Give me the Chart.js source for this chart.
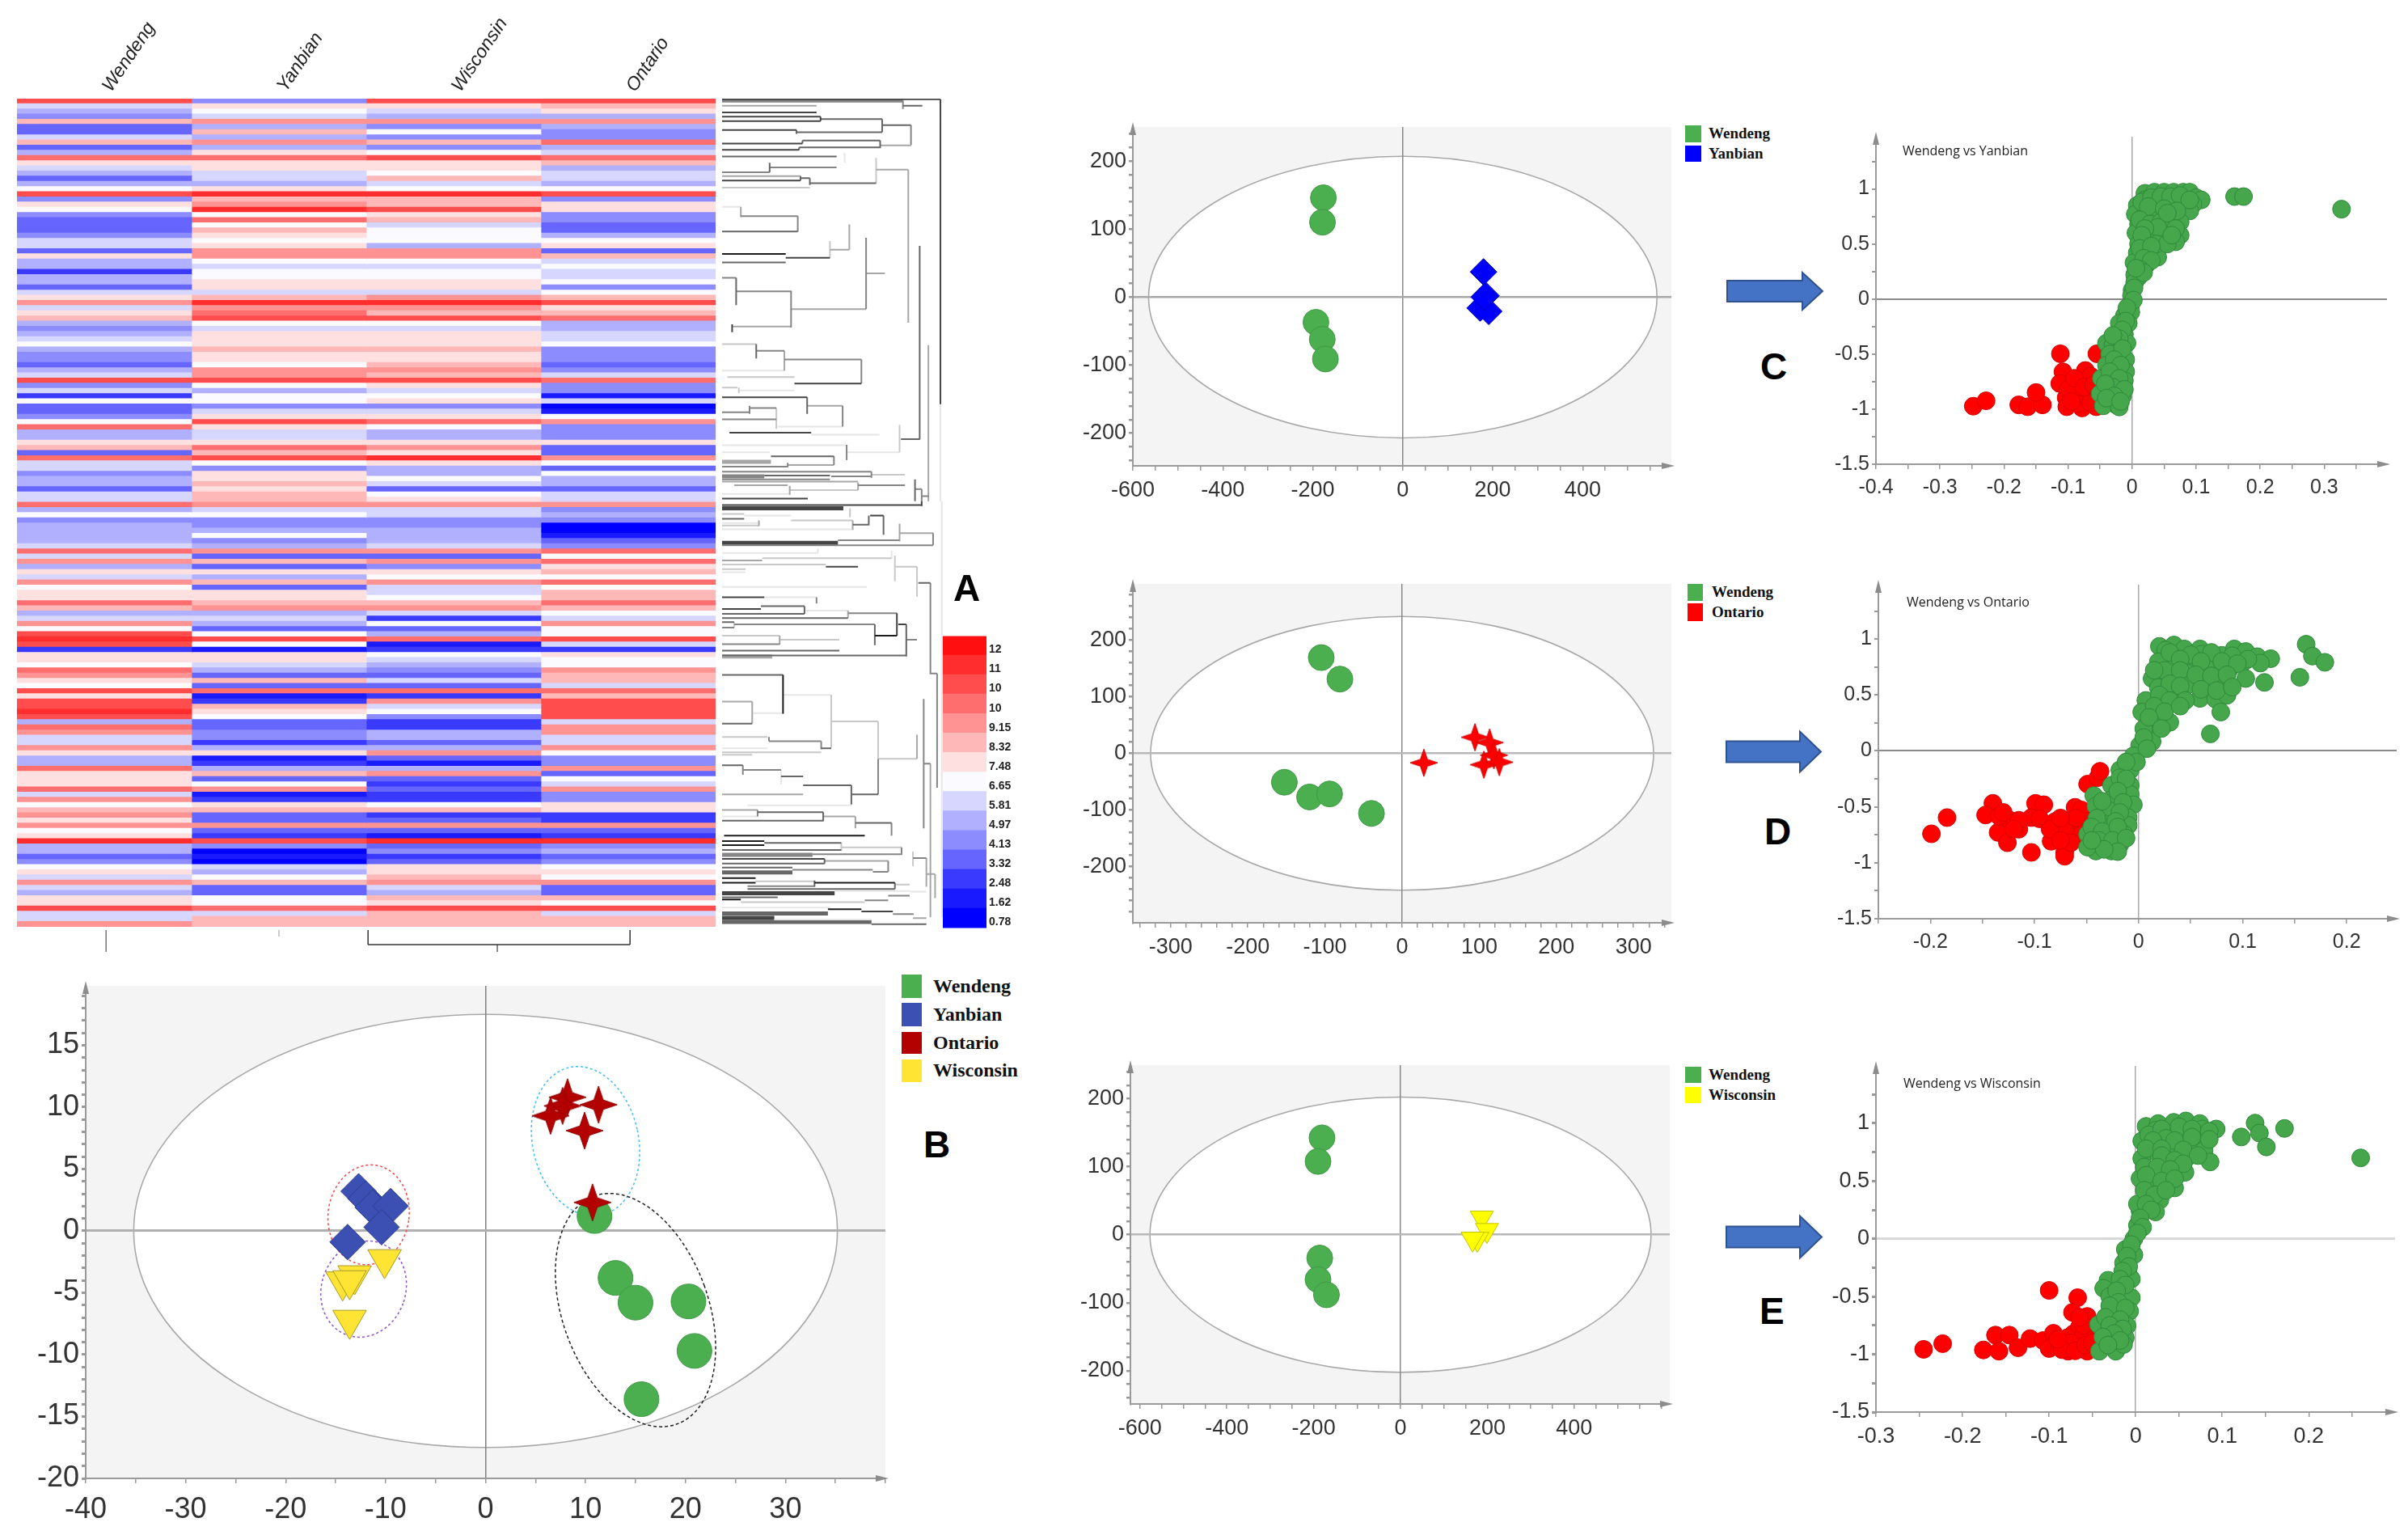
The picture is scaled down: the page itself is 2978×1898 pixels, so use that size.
<!DOCTYPE html>
<html>
<head>
<meta charset="utf-8">
<title>Metabolomics figure</title>
<script src="https://cdn.jsdelivr.net/npm/chart.js@4/dist/chart.umd.js"></script>
<style>
html, body { margin: 0; padding: 0; background: #fff; }
#page { position: relative; width: 2978px; height: 1898px; overflow: hidden; }
#page canvas { position: absolute; }
.txt { position: absolute; white-space: nowrap; line-height: 1; }
.swatch { position: absolute; }
.letter { font-family: "Liberation Sans"; font-weight: bold; font-size: 46px; color: #000; }
.key { font-family: "Liberation Serif"; font-weight: bold; color: #111; }
.sub { font-family: "Open Sans"; font-size: 16px; color: #222; }
svg { position: absolute; left: 0; top: 0; }
</style>
</head>
<body>
<div id="page"></div>
<script>
/* heat map: colour level (0 to 14) of each row, one list per region */
var regions = ["Wendeng", "Yanbian", "Wisconsin", "Ontario"];
var wendeng = [12,6,5,4,9,3,3,6,9,3,
5,11,8,6,5,3,5,7,12,4,
8,7,4,3,3,3,4,6,6,3,
8,5,5,2,5,5,3,6,8,10,
6,8,9,5,4,5,6,7,5,4,
4,3,5,6,12,4,6,2,7,3,
3,4,7,11,5,5,8,9,3,11,
6,6,4,5,5,3,6,6,
11,5,7,4,5,5,5,5,6,11,
6,10,5,8,6,10,7,8,8,11,
9,5,6,10,7,12,13,12,2,8,
8,7,11,10,8,7,12,8,12,12,
13,12,5,11,10,6,6,10,8,5,
5,11,8,8,8,11,6,10,7,9,
10,8,10,7,8,13,5,5,3,4,
7,8,6,10,6,5,8,8,12,6,
6,10];
var yanbian = [4,8,7,6,10,5,9,5,10,5,
8,11,8,8,6,6,5,8,13,9,
10,13,7,11,7,9,8,7,8,10,
10,7,6,7,7,8,8,6,9,13,
10,11,12,7,6,8,8,8,9,8,
8,7,10,10,12,7,5,7,7,4,
6,8,12,8,6,6,8,11,9,12,
7,4,8,8,9,8,9,9,
10,6,7,4,4,5,7,4,5,10,
3,9,3,8,5,9,3,8,8,9,
10,5,6,5,3,7,12,7,1,8,
8,6,5,3,9,3,11,1,2,9,
8,7,3,3,4,4,2,5,8,1,
2,5,9,3,7,10,1,2,8,9,
3,3,10,3,2,12,4,0,1,0,
6,5,7,9,3,3,7,7,11,6,
9,9];
var wisconsin = [12,8,6,5,10,4,7,4,9,4,
7,12,8,8,7,9,6,7,13,9,
9,12,8,9,6,7,7,7,5,10,
10,7,6,7,7,8,8,6,10,13,
10,9,12,7,6,8,8,8,9,8,
8,9,10,9,12,8,6,7,8,4,
6,8,11,7,5,5,8,10,8,13,
8,5,5,7,6,3,7,8,
10,6,6,4,4,5,5,5,6,10,
3,10,4,8,7,10,6,6,7,9,
10,6,2,7,3,5,11,1,2,7,
6,5,4,3,6,3,11,2,10,6,
7,4,2,2,5,5,3,5,10,3,
1,5,10,3,2,3,2,2,7,9,
2,3,10,3,1,13,3,4,2,3,
8,8,9,10,6,5,9,8,12,9,
9,9];
var ontario = [12,9,8,5,10,5,4,4,11,5,
6,11,9,5,6,6,5,7,12,4,
8,8,4,4,3,3,5,7,8,3,
9,6,7,6,6,7,4,7,9,12,
8,9,11,5,5,6,6,7,4,4,
4,3,4,6,11,4,4,1,6,0,
1,7,10,4,4,4,8,3,3,10,
7,3,7,5,5,3,6,6,
10,4,5,4,0,0,1,3,4,11,
7,11,8,9,7,11,7,9,9,11,
9,7,6,10,7,7,12,6,2,8,
7,7,10,9,9,6,11,9,12,12,
12,12,6,10,10,6,6,10,7,4,
4,10,3,7,6,10,4,4,8,8,
2,2,10,3,2,13,4,5,3,4,
7,8,7,10,3,3,9,7,12,6,
9,9];
var heatColors = ["#0000ff","#1a1aff","#3a3aff","#6666ff","#8c8cff","#b0b0ff","#d6d6ff","#fafaff",
                  "#ffe0e0","#ffb8b8","#ff9393","#ff6e6e","#ff4c4c","#ff2d2d","#ff0f0f"];
var scaleLabels = ["12","11","10","10","9.15","8.32","7.48","6.65","5.81","4.97","4.13","3.32","2.48","1.62","0.78"];

/* row dendrogram links: [shade, height1, leaf1, height2, leaf2] */
var treeUpper = [
[1,1077,312,1403,312],[1,1403,312,1403,1265],[2,1347,332,1376,332],[3,1347,316,1347,342],[4,1077,332,1218,332],
[1,1077,353,1218,353],[1,1077,366,1224,366],[1,1077,380,1224,380],[1,1224,366,1224,380],[2,1224,374,1316,374],[2,1316,374,1316,415],
[1,1077,408,1188,408],[2,1188,408,1188,420],[2,1188,415,1316,415],[2,1316,393,1359,393],[3,1359,393,1359,455],[4,1313,456,1359,456],
[2,1313,441,1313,465],[2,1197,441,1313,441],[2,1192,462,1313,462],[2,1197,441,1197,450],[1,1077,450,1197,450],[2,1192,462,1192,470],[1,1077,470,1192,470],
[2,1077,491,1248,491],[6,1260,480,1260,510],[2,1148,510,1148,540],[3,1148,525,1248,525],[3,1077,540,1148,540],[4,1077,552,1194,552],[1,1077,566,1194,566],
[2,1194,552,1194,566],[2,1194,558,1208,558],[2,1208,558,1208,580],[2,1208,574,1307,574],[5,1077,588,1208,588],[5,1307,495,1307,574],[4,1307,532,1355,532],[4,1355,532,1355,1010],
[4,1105,648,1105,680],[6,1077,648,1105,648],[3,1105,677,1190,677],[3,1190,677,1190,725],[2,1077,725,1190,725],
[0,1077,795,1172,795],[2,1077,822,1172,822],[1,1172,807,1238,807],[5,1238,755,1238,807],[4,1238,782,1267,782],[4,1267,703,1267,782],
[3,1292,745,1292,968],[4,1292,856,1320,856],[4,1180,968,1292,968],[3,1180,910,1180,1025],[3,1098,912,1180,912],[2,1098,870,1098,955],[3,1077,870,1098,870],[4,1092,1022,1180,1022],[1,1092,1015,1092,1040],
[2,1372,770,1372,1375],[2,1344,1374,1372,1374],
[5,1077,1077,1128,1077],[2,1128,1077,1128,1122],[3,1128,1098,1170,1098],[4,1170,1098,1170,1160],[3,1170,1125,1285,1125],[3,1285,1125,1285,1200],[1,1185,1200,1285,1200],
[6,1077,1160,1170,1160],[5,1085,1180,1185,1180],[5,1077,1213,1100,1213],[5,1102,1213,1102,1230],[6,1102,1222,1185,1222],
[1,1077,1243,1204,1243],[2,1204,1243,1204,1295],[4,1204,1270,1257,1270],[3,1257,1270,1257,1335],[6,1160,1335,1257,1335],[5,1158,1277,1158,1342],[3,1118,1277,1158,1277],[3,1077,1290,1118,1290],[3,1118,1270,1118,1295],[3,1077,1312,1158,1312],
[1,1088,1354,1210,1354],[6,1210,1360,1312,1360],[5,1342,1330,1342,1415],[6,1262,1415,1342,1415],[3,1263,1392,1263,1440],[6,1077,1393,1262,1393],[6,1077,1415,1148,1415],[2,1150,1428,1244,1428],[3,1244,1428,1244,1455],
[3,1077,1460,1175,1460],[3,1175,1448,1175,1462],[4,1175,1455,1244,1455],[3,1077,1476,1300,1476],[2,1140,1488,1238,1488],[3,1077,1500,1238,1500],[3,1240,1490,1300,1490],[3,1300,1476,1300,1495],[5,1300,1485,1350,1485],
[4,1077,1507,1280,1507],[4,1095,1518,1175,1518],[4,1178,1520,1178,1548],[6,1077,1545,1178,1545],[5,1178,1533,1280,1533],[4,1280,1510,1280,1533],[3,1280,1518,1350,1518],
[2,1365,1500,1365,1568],[3,1365,1530,1375,1530],[3,1375,1530,1375,1568],[3,1375,1552,1386,1552],[1,1077,1560,1205,1560],[4,1385,1080,1385,1568],[6,1403,1265,1403,1568]
];
var treeLower = [
[1,1077,12,1375,12],[1,1375,0,1375,15],[5,1268,22,1268,50],[1,1298,45,1318,45],[2,1318,45,1318,105],[2,1296,45,1296,75],[2,1272,73,1296,73],[4,1272,60,1272,90],[5,1180,60,1272,60],[6,1077,88,1272,88],
[5,1077,40,1110,40],[6,1110,45,1180,45],[2,1077,55,1110,55],[6,1077,68,1132,68],[4,1132,60,1132,78],[5,1077,76,1132,76],[4,1342,70,1342,125],[4,1342,100,1392,100],[3,1392,100,1392,137],[3,1250,122,1342,122],[3,1077,138,1392,138],
[6,1405,0,1405,1300],[6,1077,162,1220,162],[6,1220,148,1220,162],[6,1330,155,1330,180],[5,1137,178,1330,178],[4,1077,185,1137,185],[5,1077,198,1232,198],[1,1232,205,1280,205],[5,1077,212,1112,212],[6,1077,222,1112,222],
[5,1335,170,1335,250],[5,1335,205,1368,205],[5,1368,205,1368,298],[2,1370,255,1388,255],[3,1388,255,1388,540],[6,1077,268,1293,268],
[1,1077,300,1140,300],[6,1140,300,1218,300],[3,1218,300,1218,320],[1,1077,337,1135,337],[2,1135,328,1200,328],[2,1200,328,1200,352],[2,1077,352,1200,352],[6,1200,342,1265,342],[4,1265,342,1265,365],[3,1265,350,1338,350],[2,1077,365,1265,365],
[1,1338,350,1338,420],[0,1305,420,1338,420],[2,1305,385,1305,450],[3,1095,385,1305,385],[2,1077,378,1095,378],[5,1095,378,1095,395],[3,1077,395,1095,395],[1,1340,385,1352,385],[2,1352,385,1352,485],[3,1352,433,1368,433],[2,1077,482,1352,482],
[5,1077,420,1163,420],[4,1163,420,1163,448],[5,1163,433,1252,433],[3,1077,447,1163,447],[2,1077,467,1252,467],
[3,1388,538,1398,538],[3,1398,538,1398,895],[3,1378,820,1388,820],[3,1378,618,1378,1022],[4,1388,820,1388,1300],
[2,1077,543,1168,543],[0,1168,543,1168,664],[6,1122,662,1168,662],[6,1168,605,1240,605],[5,1240,605,1240,770],[5,1240,688,1310,688],[5,1310,688,1310,805],[5,1310,805,1368,805],[4,1368,730,1368,805],
[4,1077,626,1122,626],[4,1122,626,1122,695],[2,1077,695,1122,695],[2,1225,772,1240,772],[5,1077,737,1145,737],[3,1147,737,1147,750],[3,1147,750,1225,750],[3,1225,750,1225,775],[6,1077,772,1145,772],[5,1077,785,1225,785],[5,1077,792,1122,792],
[2,1077,825,1108,825],[3,1108,825,1108,855],[3,1108,840,1165,840],[6,1165,840,1165,885],[2,1165,860,1198,860],[2,1198,888,1270,888],[2,1270,888,1270,948],[2,1270,916,1310,916],[4,1077,916,1198,916],[6,1115,950,1270,950],[3,1310,805,1310,916],
[4,1077,965,1130,965],[3,1130,965,1130,985],[2,1130,972,1228,972],[2,1228,972,1228,1000],[6,1077,985,1130,985],[2,1077,998,1228,998],[4,1228,985,1276,985],[4,1276,985,1276,1022],[2,1276,1005,1330,1005],[3,1330,1005,1330,1045],[0,1080,1045,1290,1045],
[0,1077,1062,1140,1062],[0,1077,1075,1140,1075],[2,1140,1068,1255,1068],[5,1255,1068,1255,1092],[5,1255,1082,1345,1082],[3,1345,1082,1345,1105],[2,1077,1090,1255,1090],[3,1212,1103,1345,1103],[1,1077,1118,1230,1118],[2,1230,1118,1230,1132],[2,1077,1132,1230,1132],
[4,1230,1124,1325,1124],[3,1325,1124,1325,1158],[2,1077,1145,1182,1145],[3,1182,1152,1302,1152],[3,1302,1158,1325,1158],[3,1362,1115,1382,1115],[5,1362,1095,1362,1140],[4,1382,1115,1382,1205],[4,1382,1165,1395,1165],[4,1395,1165,1395,1240],
[0,1077,1178,1127,1178],[0,1077,1192,1127,1192],[5,1127,1188,1215,1188],[2,1215,1185,1215,1205],[3,1115,1203,1215,1203],[0,1215,1192,1335,1192],[2,1335,1192,1335,1212],[2,1115,1212,1335,1212],[5,1335,1198,1357,1198],
[6,1245,1218,1358,1218],[6,1358,1220,1382,1220],[2,1077,1238,1160,1238],[0,1077,1245,1105,1245],[5,1105,1253,1290,1253],[3,1290,1247,1325,1247],[3,1325,1233,1357,1233],[6,1077,1270,1238,1270],[0,1235,1275,1285,1275],[1,1285,1282,1332,1282],[3,1332,1290,1363,1290],[4,1362,1303,1382,1303],[6,1155,1307,1300,1307],[2,1300,1322,1382,1322]
];
/* heavier links, leaf positions counted on the same running scale as treeUpper */
var treeHeavy = [
[3,1077,316,1347,316],[4,1077,1445,1150,1445],[3,1077,1490,1140,1490],[1,1077,1590,1258,1590],[1,1077,1698,1250,1698],[4,1077,2053,1152,2053],
[3,1077,2673,1212,2673],[2,1077,2728,1182,2728],[1,1077,2793,1245,2793],[2,1077,2856,1235,2856],[1,1077,2870,1155,2870],[2,1077,2883,1300,2883]
];
var columnTree = [[0,0.51,0,0.51,1],[4,1.5,0,1.5,0.3],[1,2.01,0,2.01,0.67],[1,3.51,0,3.51,0.67],[1,2.01,0.67,3.51,0.67],[2,2.75,0.67,2.75,1]];

/* panel B scores */
var bWendeng = [[10.9,1.2],[13,-3.8],[15,-5.8],[20.3,-5.7],[20.9,-9.7],[15.6,-13.6]];
var bYanbian = [[-12.7,3.2],[-12,2.6],[-11.3,1.9],[-9.5,2],[-10.4,0.3],[-13.8,-0.9]];
var bOntario = [[8.2,10.8],[11.3,10.2],[7.7,10.1],[6.5,9.3],[9.9,8.1],[10.7,2.3]];
var bWisconsin = [[-10.1,-2.3],[-13.1,-3.6],[-14.3,-4.1],[-13.6,-4],[-13.6,-7.2]];
/* panel B cluster outlines: centre x, centre y, half width, half height, tilt in degrees */
var bClusterOntario = [10,7.25,5.3,6.1,-12];
var bClusterYanbian = [-11.7,1.3,4.05,4.05,8];
var bClusterWisconsin = [-12.2,-4.7,4.2,3.95,20];
var bClusterWendeng = [15,-6.4,7.3,9.8,-20];

/* panels C, D, E scores */
var cWendeng = [[-176.5,146],[-178.5,110],[-193,-37],[-179,-62],[-172,-91]];
var cYanbian = [[179.5,37],[185,2],[172,-16],[191,-21],[181,0]];
var dWendeng = [[-104.8,169],[-80.6,131],[-152.6,-51],[-120,-77],[-94,-71.6],[-39.7,-106]];
var dOntario = [[94.4,28.4],[113.4,19],[119,-3.3],[106,-20],[126,-15.6],[28.2,-16.6]];
var eWendeng = [[-180.8,142.5],[-190,107.8],[-186,-34.3],[-190,-66],[-170.6,-88.4]];
var eWisconsin = [[187,25],[199,6.7],[177,-6.3],[166,-6]];

/* S-plots */
var sCGreen = [[.02,.96],[.035,.97],[.05,.97],[.065,.97],[.08,.97],[.09,.97],[.1,.92],[.108,.9],[.095,.86],[.075,.9],[.045,.89],[.02,.9],[.008,.85],[.018,.8],[.035,.85],[.06,.88],[.08,.82],[.09,.8],[.005,.77],[.02,.76],[.035,.72],[.06,.74],[.075,.7],[.01,.68],[.03,.62],[.06,.65],[.075,.58],[.068,.52],[.05,.55],[.006,.6],[.025,.55],[.05,.6],[.01,.5],[.025,.42],[.04,.38],[.008,.42],[.022,.31],[.003,.33],[.004,.22],[.01,.2],[.004,.15],[0,.08],[-.001,.03],[-.002,-.05],[-.002,-.12],[-.012,-.15],[-.02,-.22],[-.006,-.22],[-.012,-.32],[-.008,-.4],[-.04,-.4],[-.03,-.42],[-.02,-.5],[-.035,-.5],[-.01,-.55],[-.04,-.6],[-.025,-.62],[-.01,-.66],[-.048,-.72],[-.03,-.72],[-.012,-.74],[-.04,-.82],[-.02,-.84],[-.015,-.88],[-.05,-.86],[-.035,-.92],[-.025,-.96],[-.045,-.97],[-.02,-.98],[.16,.93],[.174,.93],[.327,.816],
[.015,.88],[.03,.92],[.045,.93],[.06,.93],[.075,.94],[.09,.9],[.025,.84],[.05,.82],[.07,.8],[.012,.72],[.028,.68],[.045,.7],[.055,.78],[.068,.64],[.04,.65],[.02,.64],[.015,.58],[.038,.5],[.055,.5],[.062,.58],[.012,.46],[.03,.48],[.018,.37],[.03,.35],[.012,.27],[.018,.24],[.006,.28],[.003,.1],[.002,-.01],[-.008,-.08],[-.01,-.2],[-.015,-.28],[-.02,-.36],[-.03,-.33],[-.015,-.45],[-.028,-.55],[-.018,-.6],[-.035,-.66],[-.02,-.72],[-.03,-.8],[-.012,-.82],[-.042,-.77],[-.028,-.88],[-.04,-.9],[-.018,-.93]];
var sCRed = [[-.248,-.973],[-.228,-.924],[-.177,-.961],[-.163,-.978],[-.14,-.961],[-.15,-.849],[-.112,-.497],[-.055,-.497],[-.108,-.661],[-.073,-.649],[-.113,-.767],[-.088,-.802],[-.103,-.896],[-.075,-.896],[-.06,-.872],[-.102,-.978],[-.078,-.989],[-.056,-.978],[-.069,-.778],[-.09,-.88],[-.065,-.7],
[-.1,-.82],[-.085,-.95],[-.065,-.94],[-.09,-.72],[-.075,-.8],[-.06,-.78],[-.095,-.93]];
var sDGreen = [[.02,.934],[.034,.946],[.044,.911],[.059,.911],[.026,.9],[.061,.865],[.08,.854],[.092,.911],[.103,.888],[.114,.842],[.127,.824],[.117,.785],[.101,.796],[.088,.739],[.076,.739],[.065,.739],[.047,.773],[.03,.773],[.019,.796],[.013,.647],[.03,.647],[.047,.693],[.061,.624],[.076,.612],[.047,.589],[.019,.566],[.04,.497],[.059,.469],[.074,.462],[.085,.497],[.079,.347],[.026,.428],[.007,.451],[.003,.347],[.017,.29],[.03,.255],[.013,.175],[.005,.198],[.001,.048],[.013,.083],[-.005,-.044],[-.008,-.17],[-.018,-.17],[-.008,-.308],[-.026,-.308],[-.043,-.4],[-.026,-.435],[-.008,-.389],[-.005,-.481],[-.041,-.492],[-.026,-.538],[-.01,-.596],[-.032,-.653],[-.01,-.665],[-.049,-.745],[-.026,-.722],[-.014,-.745],[-.041,-.895],[-.026,-.895],[-.049,-.86],[-.018,-.838],[.069,.152],[.155,.658],[.161,.953],[.167,.847],[.179,.792],[.103,.647],[.121,.612],
[.03,.88],[.05,.86],[.07,.88],[.09,.85],[.105,.82],[.04,.82],[.06,.8],[.08,.8],[.095,.78],[.025,.72],[.04,.72],[.055,.68],[.07,.67],[.085,.68],[.015,.72],[.03,.6],[.04,.58],[.06,.55],[.075,.54],[.09,.57],[.02,.5],[.03,.45],[.045,.45],[.015,.4],[.025,.35],[.04,.4],[.01,.3],[.022,.2],[.005,.12],[.008,.02],[-.002,-.1],[-.012,-.1],[-.018,-.24],[-.012,-.25],[-.02,-.36],[-.015,-.46],[-.035,-.45],[-.018,-.55],[-.04,-.6],[-.022,-.63],[-.045,-.68],[-.035,-.72],[-.02,-.68],[-.038,-.8],[-.025,-.8],[-.012,-.78],[-.02,-.9],[-.033,-.88],[-.045,-.8]];
var sDRed = [[-.199,-.741],[-.184,-.596],[-.14,-.469],[-.147,-.573],[-.124,-.619],[-.135,-.729],[-.126,-.821],[-.115,-.7],[-.103,-.907],[-.099,-.469],[-.091,-.481],[-.103,-.596],[-.095,-.607],[-.08,-.63],[-.076,-.688],[-.084,-.808],[-.062,-.792],[-.071,-.907],[-.071,-.941],[-.061,-.504],[-.055,-.527],[-.049,-.63],[-.059,-.7],[-.049,-.297],[-.039,-.239],[-.037,-.182],[-.068,-.63],[-.134,-.584],
[-.07,-.72],[-.085,-.7],[-.06,-.6],[-.075,-.6],[-.115,-.62],[-.13,-.55],[-.055,-.75],[-.065,-.82],[-.075,-.8],[-.12,-.7]];
var sEGreen = [[.012,.973],[.026,.997],[.044,1.008],[.058,1.02],[.074,.997],[.093,.95],[.023,.939],[.056,.915],[.077,.95],[.007,.846],[.019,.765],[.044,.776],[.07,.8],[.079,.765],[.06,.707],[.032,.672],[.086,.665],[.007,.695],[.019,.568],[.035,.533],[.057,.575],[.045,.44],[.005,.521],[.016,.475],[.028,.336],[.005,.243],[.023,.232],[.002,.301],[.002,.116],[-.002,0],[-.012,-.093],[-.002,-.139],[-.014,-.209],[-.009,-.29],[-.005,-.348],[-.032,-.359],[-.037,-.429],[-.03,-.498],[-.013,-.475],[-.005,-.51],[-.023,-.637],[-.007,-.626],[-.043,-.742],[-.01,-.753],[-.028,-.846],[-.012,-.857],[-.042,-.973],[-.023,-.973],[-.014,-.915],[.122,.881],[.138,1.001],[.143,.915],[.151,.795],[.172,.955],[.26,.7],
[.015,.9],[.03,.95],[.05,.97],[.065,.95],[.085,.93],[.035,.87],[.065,.88],[.085,.86],[.02,.85],[.045,.85],[.012,.78],[.03,.78],[.055,.77],[.072,.72],[.01,.62],[.03,.72],[.045,.68],[.055,.65],[.025,.62],[.04,.6],[.012,.55],[.03,.5],[.045,.52],[.01,.42],[.022,.38],[.035,.42],[.012,.3],[.018,.25],[.005,.18],[.008,.1],[.002,.05],[-.005,-.05],[-.01,-.15],[-.008,-.24],[-.015,-.28],[-.018,-.35],[-.012,-.4],[-.022,-.45],[-.02,-.55],[-.03,-.58],[-.012,-.6],[-.035,-.68],[-.018,-.7],[-.03,-.75],[-.015,-.78],[-.025,-.82],[-.038,-.85],[-.018,-.88],[-.032,-.92]];
var sERed = [[-.245,-.957],[-.223,-.908],[-.176,-.962],[-.162,-.834],[-.158,-.973],[-.146,-.834],[-.136,-.943],[-.122,-.864],[-.107,-.881],[-.1,-.447],[-.095,-.818],[-.1,-.95],[-.078,-.973],[-.067,-.51],[-.073,-.637],[-.072,-.823],[-.056,-.973],[-.056,-.881],[-.065,-.765],[-.079,-.857],[-.056,-.672],[-.053,-.8],[-.088,-.915],
[-.065,-.9],[-.06,-.83],[-.075,-.9],[-.085,-.96],[-.07,-.97],[-.06,-.75],[-.065,-.68],[-.058,-.92],[-.05,-.9],[-.09,-.87]];

Chart.defaults.animation = false;
Chart.defaults.responsive = false;
Chart.defaults.plugins.legend.display = false;
Chart.defaults.plugins.tooltip.enabled = false;

var page = document.getElementById("page");

function addCanvas(x, y, w, h) {
    var c = document.createElement("canvas");
    c.width = w;
    c.height = h;
    c.style.left = x + "px";
    c.style.top = y + "px";
    page.appendChild(c);
    return c;
}

function addText(text, x, y, cls, size) {
    var d = document.createElement("div");
    d.className = "txt " + cls;
    d.textContent = text;
    d.style.left = x + "px";
    d.style.top = y + "px";
    if (size) { d.style.fontSize = size + "px"; }
    page.appendChild(d);
}

function addKey(items, x, textX, size) {
    /* items: name, colour, top, bottom */
    for (var i = 0; i < items.length; i++) {
        var s = document.createElement("div");
        s.className = "swatch";
        s.style.left = x[0] + "px";
        s.style.width = (x[1] - x[0]) + "px";
        s.style.top = items[i][2] + "px";
        s.style.height = (items[i][3] - items[i][2]) + "px";
        s.style.background = items[i][1];
        page.appendChild(s);
        addText(items[i][0], textX, (items[i][2] + items[i][3]) / 2 - size / 2 - 1, "key", size);
    }
}

/* four pointed star marker */
function starMarker(radius, fill, edge) {
    var c = document.createElement("canvas");
    var m = radius + 2;
    c.width = m * 2;
    c.height = m * 2;
    var g = c.getContext("2d");
    var inner = radius * 0.36;
    g.beginPath();
    for (var i = 0; i < 8; i++) {
        var r = i % 2 === 0 ? radius : inner;
        var a = i * Math.PI / 4 - Math.PI / 2;
        g.lineTo(m + r * Math.cos(a), m + r * Math.sin(a));
    }
    g.closePath();
    g.fillStyle = fill;
    g.fill();
    g.strokeStyle = edge;
    g.stroke();
    return c;
}

function toPoints(pairs) {
    return pairs.map(function (p) { return { x: p[0], y: p[1] }; });
}

function scatterSet(pairs, style, radius, fill, edge, rotation) {
    return {
        data: toPoints(pairs),
        pointStyle: style,
        pointRadius: radius,
        pointRotation: rotation || 0,
        backgroundColor: fill,
        borderColor: edge,
        borderWidth: 1,
        showLine: false,
        clip: false
    };
}

/* plugin for the grey box, Hotelling ellipse, cluster outlines and axis arrow heads */
function framePlugin(cfg) {
    function ellipsePath(chart, e) {
        var xs = chart.scales.x, ys = chart.scales.y;
        var rx = Math.abs(xs.getPixelForValue(e[2]) - xs.getPixelForValue(0));
        var ry = Math.abs(ys.getPixelForValue(e[3]) - ys.getPixelForValue(0));
        chart.ctx.beginPath();
        chart.ctx.ellipse(xs.getPixelForValue(e[0]), ys.getPixelForValue(e[1]), rx, ry, (e[4] || 0) * Math.PI / 180, 0, Math.PI * 2);
    }
    return {
        id: "frame",
        beforeDraw: function (chart) {
            if (!cfg.hotelling) { return; }
            var a = chart.chartArea, ctx = chart.ctx;
            ctx.save();
            ctx.fillStyle = "#f4f4f4";
            ctx.fillRect(a.left, a.top, a.right - a.left, a.bottom - a.top);
            ellipsePath(chart, [0, 0, cfg.hotelling[0], cfg.hotelling[1], 0]);
            ctx.fillStyle = "#fff";
            ctx.fill();
            ctx.strokeStyle = "#a8a8a8";
            ctx.lineWidth = 1.6;
            ctx.stroke();
            ctx.restore();
        },
        beforeDatasetsDraw: function (chart) {
            var ctx = chart.ctx;
            (cfg.clusters || []).forEach(function (c) {
                ctx.save();
                ellipsePath(chart, c.shape);
                ctx.strokeStyle = c.color;
                ctx.lineWidth = 1.5;
                ctx.setLineDash(c.dash);
                ctx.stroke();
                ctx.restore();
            });
        },
        afterDraw: function (chart) {
            var a = chart.chartArea, ctx = chart.ctx;
            ctx.save();
            ctx.fillStyle = "#8c8c8c";
            ctx.beginPath();
            ctx.moveTo(a.left, a.top - 6);
            ctx.lineTo(a.left - 4, a.top + 10);
            ctx.lineTo(a.left + 4, a.top + 10);
            ctx.fill();
            ctx.beginPath();
            ctx.moveTo(a.right + 4, a.bottom);
            ctx.lineTo(a.right - 12, a.bottom - 4);
            ctx.lineTo(a.right - 12, a.bottom + 4);
            ctx.fill();
            ctx.restore();
        }
    };
}

function axisLabel(step, top) {
    return function (value) {
        var q = value / step;
        if (Math.abs(q - Math.round(q)) > 1e-6) { return ""; }
        if (top !== undefined && value > top + 1e-6) { return ""; }
        return String(Number(value.toFixed(2)));
    };
}

function axisOptions(r, step, label, size, fit, zeroColor, zeroWidth, tickLen, pad) {
    return {
        type: "linear",
        min: r[0],
        max: r[1],
        afterFit: fit,
        border: { color: "#9a9a9a", width: 2 },
        grid: {
            color: function (c) { return c.tick && Math.abs(c.tick.value) < 1e-9 ? zeroColor : "rgba(0,0,0,0)"; },
            lineWidth: zeroWidth,
            tickColor: "#9a9a9a",
            tickLength: tickLen
        },
        ticks: {
            stepSize: step,
            autoSkip: false,
            maxRotation: 0,
            includeBounds: false,
            padding: pad,
            color: "#333",
            font: { family: "'Liberation Sans Narrow', 'Liberation Sans'", size: size },
            callback: label
        }
    };
}

function plot(cfg) {
    var b = cfg.box;
    var left = cfg.left, below = cfg.below, above = 34;
    var canvas = addCanvas(b[0] - left, b[1] - above, b[2] - b[0] + left + 12, b[3] - b[1] + above + below);
    var xAxis = axisOptions(cfg.xr, cfg.xStep, axisLabel(cfg.xLabel, cfg.xLabelTop), cfg.font, function (s) { s.height = below; }, cfg.xZero, cfg.xZeroW, 6, cfg.xPad || 8);
    var yAxis = axisOptions(cfg.yr, cfg.yStep, axisLabel(cfg.yLabel), cfg.font, function (s) { s.width = left; }, cfg.yZero, cfg.yZeroW, 5, 3);
    return new Chart(canvas, {
        type: "scatter",
        data: { datasets: cfg.sets },
        options: {
            layout: { autoPadding: false, padding: { top: above, right: 12, left: 0, bottom: 0 } },
            scales: { x: xAxis, y: yAxis }
        },
        plugins: [framePlugin(cfg)]
    });
}

function treeSets(groups, width, shades) {
    var sets = [];
    shades.forEach(function (shade, i) {
        var pts = [];
        groups.forEach(function (g) {
            g.links.forEach(function (l) {
                if (l[0] !== i) { return; }
                pts.push({ x: l[1], y: l[2] + g.shift }, { x: l[3], y: l[4] + g.shift }, { x: NaN, y: NaN });
            });
        });
        sets.push({ data: pts, showLine: true, spanGaps: false, borderColor: shade, borderWidth: width, pointRadius: 0, clip: false });
    });
    return sets;
}

function hiddenAxes(xr, yr, reverse) {
    return {
        x: { type: "linear", display: false, min: xr[0], max: xr[1] },
        y: { type: "linear", display: false, min: yr[0], max: yr[1], reverse: reverse }
    };
}

/* ----- panel A heat map ----- */
var rowIndex = wendeng.map(function (v, i) { return i; });
var columns = [wendeng, yanbian, wisconsin, ontario];
new Chart(addCanvas(21, 0, 900, 1146), {
    type: "bar",
    data: {
        labels: rowIndex,
        datasets: columns.map(function (col) {
            return {
                data: col.map(function () { return 1; }),
                backgroundColor: col.map(function (v) { return heatColors[v]; }),
                barThickness: 7,
                borderWidth: 0
            };
        })
    },
    options: {
        indexAxis: "y",
        layout: { autoPadding: false, padding: { right: 36 } },
        scales: {
            x: {
                type: "linear",
                position: "top",
                stacked: true,
                min: 0,
                max: 4,
                afterFit: function (s) { s.height = 122; },
                afterBuildTicks: function (s) {
                    s.ticks = regions.map(function (r, i) { return { value: i + 0.5 }; });
                },
                border: { display: false },
                grid: { display: false, drawTicks: false },
                ticks: {
                    minRotation: 56,
                    maxRotation: 56,
                    autoSkip: false,
                    padding: 3,
                    labelOffset: 26,
                    color: "#222",
                    font: { family: "Liberation Sans", style: "italic", size: 23 },
                    callback: function (v) { return regions[Math.floor(v)]; }
                }
            },
            y: { stacked: true, display: false, grid: { display: false } }
        }
    }
});

/* column dendrogram under the heat map */
new Chart(addCanvas(21, 1150, 864, 27), {
    type: "scatter",
    data: { datasets: treeSets([{ links: columnTree, shift: 0 }], 1.5, ["#777", "#333", "#666", "#999", "#bbb"]) },
    options: { layout: { autoPadding: false, padding: 0 }, scales: hiddenAxes([0, 4], [0, 1], true) }
});

/* row dendrogram, leaf position 0 at the top row */
var shades = ["#1c1c1c", "#444", "#666", "#858585", "#a6a6a6", "#c8c8c8", "#e6e6e6"];
var treeGroups = [{ links: treeUpper, shift: -310 }, { links: treeLower, shift: 1258 }];
var heavyGroups = [{ links: treeHeavy, shift: -310 }];
new Chart(addCanvas(893, 122, 280, 1024), {
    type: "scatter",
    data: { datasets: treeSets(treeGroups, 2, shades).concat(treeSets(heavyGroups, 5, shades)) },
    options: { layout: { autoPadding: false, padding: 0 }, scales: hiddenAxes([1077, 1415], [0, 2588], true) }
});

/* colour scale, the canvas runs past the bar because the axis keeps room for its end labels */
new Chart(addCanvas(1166, 775, 100, 384), {
    type: "bar",
    data: {
        labels: scaleLabels,
        datasets: [{
            data: scaleLabels.map(function () { return 1; }),
            backgroundColor: heatColors.slice().reverse(),
            barPercentage: 1,
            categoryPercentage: 1,
            barThickness: 25,
            borderWidth: 0
        }]
    },
    options: {
        indexAxis: "y",
        layout: { autoPadding: false, padding: 0 },
        scales: {
            x: { type: "linear", display: false, min: 0, max: 1 },
            y: {
                position: "right",
                afterFit: function (s) { s.width = 46; },
                border: { display: false },
                grid: { display: false, drawTicks: false },
                ticks: {
                    padding: 3,
                    autoSkip: false,
                    labelOffset: 5,
                    color: "#222",
                    font: { family: "Liberation Sans", weight: "bold", size: 14 }
                }
            }
        }
    }
});

/* ----- panel B ----- */
plot({
    box: [106, 1219, 1095, 1828],
    left: 80, below: 60,
    xr: [-40, 40], yr: [-20, 19.8],
    xStep: 5, xLabel: 10, xLabelTop: 30, yStep: 1, yLabel: 5,
    font: 36, xPad: 11,
    xZero: "#808080", xZeroW: 1.5, yZero: "#b0b0b0", yZeroW: 3,
    hotelling: [35.2, 17.5],
    clusters: [
        { shape: bClusterOntario, color: "#45bdf0", dash: [3, 3] },
        { shape: bClusterYanbian, color: "#f04a4a", dash: [3, 3] },
        { shape: bClusterWisconsin, color: "#8e55c8", dash: [3, 3] },
        { shape: bClusterWendeng, color: "#222", dash: [4, 3] }
    ],
    sets: [
        scatterSet(bOntario, starMarker(23, "#b30000", "#900000"), 23, "#b30000", "#900000"),
        scatterSet(bYanbian, "rectRot", 22, "#3c50b4", "#2a3a8c"),
        scatterSet(bWisconsin, "triangle", 24, "#ffe433", "#a89a2a", 180),
        scatterSet(bWendeng, "circle", 21.5, "#4bae4f", "#3f9a46")
    ]
});

/* ----- panels C, D, E left ----- */
plot({
    box: [1401, 157, 2067, 576],
    left: 66, below: 50,
    xr: [-600, 597], yr: [-248, 250],
    xStep: 50, xLabel: 200, yStep: 20, yLabel: 100,
    font: 27,
    xZero: "#888", xZeroW: 1.5, yZero: "#a8a8a8", yZeroW: 2.5,
    hotelling: [565, 207],
    sets: [
        scatterSet(cWendeng, "circle", 16, "#4bae4f", "#3f9a46"),
        scatterSet(cYanbian, "rectRot", 16.5, "#0000ff", "#0000b4")
    ]
});
plot({
    box: [1401, 722, 2067, 1141],
    left: 66, below: 50,
    xr: [-349, 349], yr: [-299, 299],
    xStep: 20, xLabel: 100, yStep: 20, yLabel: 100,
    font: 27,
    xZero: "#888", xZeroW: 1.5, yZero: "#b8b8b8", yZeroW: 2.5,
    hotelling: [326, 241.6],
    sets: [
        scatterSet(dWendeng, "circle", 16, "#4bae4f", "#3f9a46"),
        scatterSet(dOntario, starMarker(17, "#ff0000", "#d00000"), 17, "#ff0000", "#d00000")
    ]
});
plot({
    box: [1398, 1317, 2065, 1736],
    left: 66, below: 50,
    xr: [-622, 620], yr: [-249, 249.5],
    xStep: 50, xLabel: 200, xLabelTop: 400, yStep: 20, yLabel: 100,
    font: 27,
    xZero: "#888", xZeroW: 1.5, yZero: "#b8b8b8", yZeroW: 2.5,
    hotelling: [577, 202.5],
    sets: [
        scatterSet(eWendeng, "circle", 16, "#4bae4f", "#3f9a46"),
        scatterSet(eWisconsin, "triangle", 16.5, "#ffff00", "#c4c400", 180)
    ]
});

/* ----- panels C, D, E right (S-plots) ----- */
plot({
    box: [2320, 169, 2952, 574],
    left: 56, below: 46,
    xr: [-0.4, 0.398], yr: [-1.5, 1.474],
    xStep: 0.05, xLabel: 0.1, yStep: 0.25, yLabel: 0.5,
    font: 25,
    xZero: "#aaa", xZeroW: 1.5, yZero: "#8a8a8a", yZeroW: 2,
    sets: [
        scatterSet(sCGreen, "circle", 11, "#45a64b", "#2f8a3b"),
        scatterSet(sCRed, "circle", 11, "#ff0000", "#d80000")
    ]
});
plot({
    box: [2323, 723, 2964, 1136],
    left: 56, below: 46,
    xr: [-0.25, 0.248], yr: [-1.5, 1.485],
    xStep: 0.05, xLabel: 0.1, yStep: 0.25, yLabel: 0.5,
    font: 25,
    xZero: "#aaa", xZeroW: 1.5, yZero: "#8a8a8a", yZeroW: 2,
    sets: [
        scatterSet(sDGreen, "circle", 11, "#45a64b", "#2f8a3b"),
        scatterSet(sDRed, "circle", 11, "#ff0000", "#d80000")
    ]
});
plot({
    box: [2320, 1318, 2962, 1746],
    left: 56, below: 46,
    xr: [-0.3001, 0.2997], yr: [-1.5, 1.496],
    xStep: 0.05, xLabel: 0.1, yStep: 0.25, yLabel: 0.5,
    font: 27,
    xZero: "#aaa", xZeroW: 1.5, yZero: "#d8d8d8", yZeroW: 3,
    sets: [
        scatterSet(sEGreen, "circle", 11, "#45a64b", "#2f8a3b"),
        scatterSet(sERed, "circle", 11, "#ff0000", "#d80000")
    ]
});

/* ----- legends and letters ----- */
addKey([["Wendeng", "#4bae4f", 1205, 1234], ["Yanbian", "#3c50b4", 1240, 1269], ["Ontario", "#b30000", 1276, 1303], ["Wisconsin", "#ffe433", 1310, 1338]], [1115, 1140], 1154, 24);
addKey([["Wendeng", "#4bae4f", 155, 176], ["Yanbian", "#0000ff", 180, 200]], [2084, 2104], 2113, 19);
addKey([["Wendeng", "#4bae4f", 722, 743], ["Ontario", "#ff0000", 746, 768]], [2087, 2106], 2117, 19);
addKey([["Wendeng", "#4bae4f", 1319, 1339], ["Wisconsin", "#ffff00", 1344, 1364]], [2084, 2104], 2113, 19);

addText("A", 1179, 704, "letter");
addText("B", 1142, 1392, "letter");
addText("C", 2177, 430, "letter");
addText("D", 2182, 1005, "letter");
addText("E", 2176, 1598, "letter");

addText("Wendeng vs Yanbian", 2353, 178, "sub");
addText("Wendeng vs Ontario", 2358, 736, "sub");
addText("Wendeng vs Wisconsin", 2354, 1331, "sub");

/* block arrows between the score plots and the S-plots */
var arrows = [[2136, 2229, 2254, 360, 13, 23], [2135, 2226, 2252, 929.5, 13, 25], [2135, 2226, 2253, 1529.5, 13, 26]];
var svg = '<svg width="2978" height="1898">';
arrows.forEach(function (a) {
    var p = [[a[0], a[3] - a[4]], [a[1], a[3] - a[4]], [a[1], a[3] - a[5]], [a[2], a[3]], [a[1], a[3] + a[5]], [a[1], a[3] + a[4]], [a[0], a[3] + a[4]]];
    svg += '<polygon points="' + p.join(" ") + '" fill="#4472c4" stroke="#2f528f" stroke-width="2"/>';
});
svg += "</svg>";
var holder = document.createElement("div");
holder.innerHTML = svg;
page.appendChild(holder);
</script>
</body>
</html>
